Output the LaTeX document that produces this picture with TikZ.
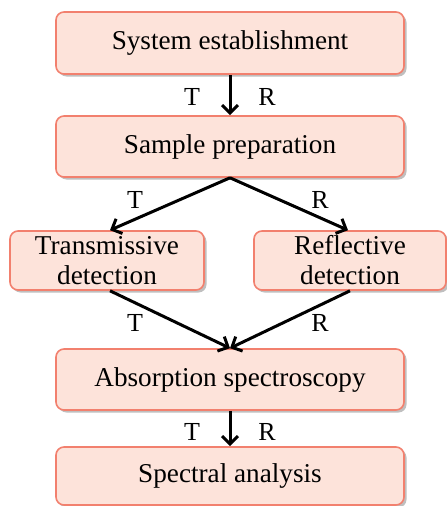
\documentclass[tikz,border=0pt]{standalone}
\usepackage{fontspec}
\setmainfont{Liberation Serif}
\usetikzlibrary{arrows.meta,shadows}
\definecolor{boxfill}{HTML}{FDE3DA}
\definecolor{boxdraw}{HTML}{F2806E}
\tikzset{
  flowbox/.style={draw=boxdraw, fill=boxfill, line width=1.6pt, rounded corners=8pt,
    inner sep=0pt, align=center,
    font=\fontsize{27.2}{30}\selectfont,
    drop shadow={shadow xshift=2.5pt, shadow yshift=-2.5pt, opacity=0.25, fill=black}},
  flowarrow/.style={line width=3pt, -{Straight Barb[length=8pt,width=16pt,line width=3pt]}},
  trlabel/.style={font=\fontsize{26}{30}\selectfont, inner sep=0pt}
}
\begin{document}
\begin{tikzpicture}[x=1pt,y=1pt]
\useasboundingbox (0,0) rectangle (447,-506);
\node[flowbox, minimum width=348pt, minimum height=62pt] (se) at (230,-43) {System establishment};
\node[flowbox, minimum width=348pt, minimum height=61pt] (sp) at (230,-146.5) {Sample preparation};
\node[flowbox, minimum width=194pt, minimum height=59pt] (td) at (107,-260.5) {Transmissive\\detection};
\node[flowbox, minimum width=192pt, minimum height=59pt] (rd) at (350,-260.5) {Reflective\\detection};
\node[flowbox, minimum width=348pt, minimum height=61pt] (as) at (230,-379.5) {Absorption spectroscopy};
\node[flowbox, minimum width=348pt, minimum height=58pt] (sa) at (230,-476) {Spectral analysis};

\draw[flowarrow] (se.south) -- (sp.north);
\draw[flowarrow] (sp.south) -- ([xshift=3pt]td.north);
\draw[flowarrow] (sp.south) -- ([xshift=-2pt]rd.north);
\draw[flowarrow] ([xshift=3pt]td.south) -- (as.north);
\draw[flowarrow] ([xshift=0pt]rd.south) -- (as.north);
\draw[flowarrow] (as.south) -- (sa.north);

\node[trlabel] (t1) at (192,-97) {T};
\node[trlabel] (r1) at (267,-97) {R};
\node[trlabel] (t2) at (135,-200) {T};
\node[trlabel] (r2) at (320,-200) {R};
\node[trlabel] (t3) at (135,-323) {T};
\node[trlabel] (r3) at (320,-323) {R};
\node[trlabel] (t4) at (192,-432) {T};
\node[trlabel] (r4) at (267,-432) {R};
\end{tikzpicture}
\end{document}
